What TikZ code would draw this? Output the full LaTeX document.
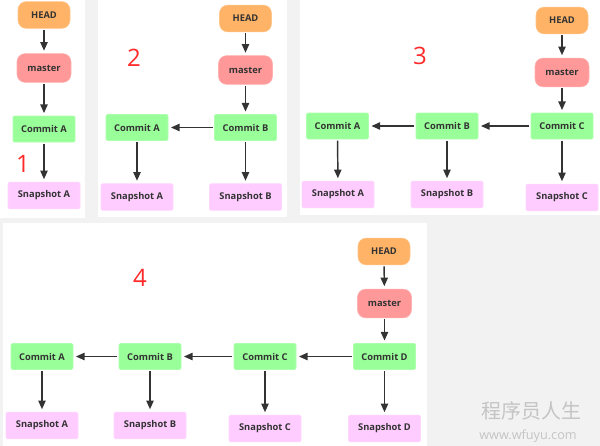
\documentclass[tikz,border=0pt]{standalone}
\usepackage{fontspec}
\setmainfont{Open Sans}
\setsansfont{Open Sans}
\newfontfamily\cjkfont{Noto Sans CJK SC}
\usepackage{xcolor}
\usetikzlibrary{arrows.meta,positioning}
\definecolor{bggray}{HTML}{F2F2F2}
\definecolor{headfill}{HTML}{FFB366}
\definecolor{masterfill}{HTML}{FF9999}
\definecolor{commitfill}{HTML}{99FF99}
\definecolor{snapfill}{HTML}{FFCCFF}
\definecolor{ink}{HTML}{333333}
\definecolor{numred}{HTML}{FF2A2A}
\definecolor{wmgray}{HTML}{C4C4C4}

\begin{document}
\begin{tikzpicture}[x=0.75pt, y=-0.75pt,
    box/.style={font=\sffamily\bfseries\fontsize{7}{8}\selectfont, text=ink, inner sep=0pt, align=center},
    headbox/.style={box, draw=headfill!75!white, fill=headfill, rounded corners=6pt, minimum width=39pt, minimum height=20pt},
    branch/.style={box, draw=masterfill!75!white, fill=masterfill, rounded corners=6pt, minimum width=40.5pt, minimum height=21.5pt},
    commit/.style={box, draw=commitfill!80!white, fill=commitfill, rounded corners=1pt, minimum width=46.5pt, minimum height=19.5pt},
    snap/.style={box, draw=snapfill!80!white, fill=snapfill, rounded corners=1pt, minimum width=54pt, minimum height=20pt},
    panel/.style={fill=white, draw=none},
    panelnum/.style={font=\sffamily\fontsize{18}{20}\selectfont, text=numred},
    wmark/.style={text=wmgray, inner sep=0pt},
    link/.style={-{Triangle[length=6.5pt,width=5.5pt]}, draw=ink, line width=1.1pt, shorten >=2pt, shorten <=1pt}
]
% background and panels
\fill[bggray] (0,0) rectangle (600,446);
\fill[panel] (0,0) rectangle (85,218);
\fill[panel] (98,0) rectangle (287,217);
\fill[panel] (300,0) rectangle (600,215);
\fill[panel] (3,223) rectangle (427,446);

% panel 1
\node[headbox] (head1) at (44,15) {HEAD};
\node[branch] (master1) at (44,68) {master};
\node[commit] (ca1) at (44,129) {Commit A};
\node[snap] (sa1) at (44,195.5) {Snapshot A};
\node[panelnum] (num1) at (23,164) {1};
\draw[link] (head1) -- (master1);
\draw[link] (master1) -- (ca1);
\draw[link] (ca1) -- (sa1);

% panel 2
\node[headbox] (head2) at (245.5,18.5) {HEAD};
\node[branch] (master2) at (245.5,70) {master};
\node[commit] (cb2) at (245.5,127.5) {Commit B};
\node[commit] (ca2) at (137,127.5) {Commit A};
\node[snap] (sa2) at (137,197) {Snapshot A};
\node[snap] (sb2) at (245.5,197) {Snapshot B};
\node[panelnum] (num2) at (134,57.5) {2};
\draw[link] (head2) -- (master2);
\draw[link] (master2) -- (cb2);
\draw[link] (cb2) -- (ca2);
\draw[link] (ca2) -- (sa2);
\draw[link] (cb2) -- (sb2);

% panel 3
\node[headbox] (head3) at (562,20.5) {HEAD};
\node[branch] (master3) at (562,72.5) {master};
\node[commit] (cc3) at (562,126) {Commit C};
\node[commit] (cb3) at (447,126) {Commit B};
\node[commit] (ca3) at (337.5,126) {Commit A};
\node[snap] (sa3) at (338,194.5) {Snapshot A};
\node[snap] (sb3) at (447,194.5) {Snapshot B};
\node[snap] (sc3) at (562,197.5) {Snapshot C};
\node[panelnum] (num3) at (420,56) {3};
\draw[link] (head3) -- (master3);
\draw[link] (master3) -- (cc3);
\draw[link] (cc3) -- (cb3);
\draw[link] (cb3) -- (ca3);
\draw[link] (ca3) -- (sa3);
\draw[link] (cb3) -- (sb3);
\draw[link] (cc3) -- (sc3);

% panel 4
\node[headbox] (head4) at (384,251.5) {HEAD};
\node[branch] (master4) at (384.5,303.5) {master};
\node[commit] (cd4) at (384.5,356.5) {Commit D};
\node[commit] (cc4) at (265,356.5) {Commit C};
\node[commit] (cb4) at (150,356.5) {Commit B};
\node[commit] (ca4) at (42,356.5) {Commit A};
\node[snap] (sa4) at (42,425.5) {Snapshot A};
\node[snap] (sb4) at (150,425.5) {Snapshot B};
\node[snap] (sc4) at (265,428.5) {Snapshot C};
\node[snap] (sd4) at (384.5,428.5) {Snapshot D};
\node[panelnum] (num4) at (140,277.5) {4};
\draw[link] (head4) -- (master4);
\draw[link] (master4) -- (cd4);
\draw[link] (cd4) -- (cc4);
\draw[link] (cc4) -- (cb4);
\draw[link] (cb4) -- (ca4);
\draw[link] (ca4) -- (sa4);
\draw[link] (cb4) -- (sb4);
\draw[link] (cc4) -- (sc4);
\draw[link] (cd4) -- (sd4);

% watermark
\node[wmark, font=\cjkfont\fontsize{15}{16}\selectfont] (wmcn) at (531,411) {程序员人生};
\node[wmark, font=\sffamily\fontsize{9.5}{10}\selectfont] (wmurl) at (528,436) {www.wfuyu.com};
\end{tikzpicture}
\end{document}
